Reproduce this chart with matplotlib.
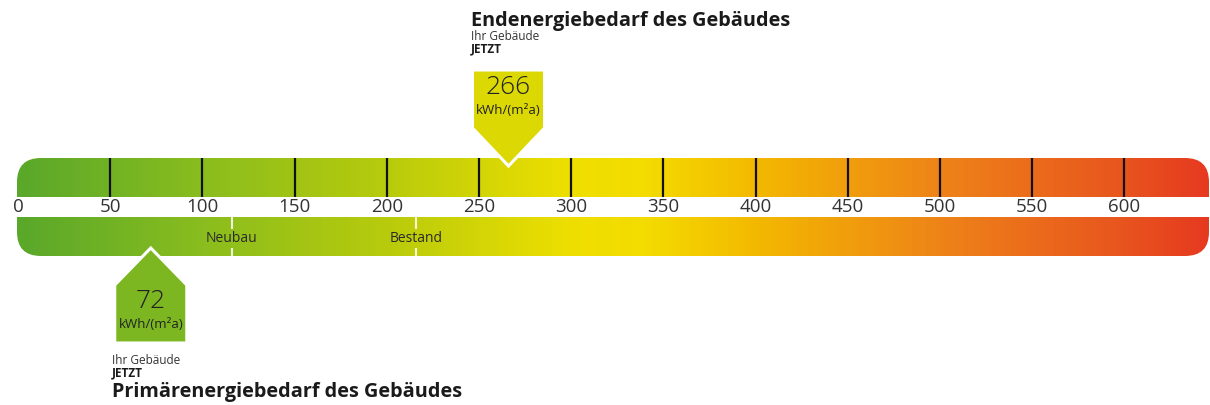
import numpy as np
import matplotlib
matplotlib.use("Agg")
import matplotlib.pyplot as plt
from matplotlib.colors import LinearSegmentedColormap, Normalize
from matplotlib.patches import FancyBboxPatch, Polygon, Rectangle

plt.rcParams['font.family'] = ['Open Sans', 'DejaVu Sans']

# scale values (kWh/(m²a))
tick_values = [0, 50, 100, 150, 200, 250, 300, 350, 400, 450, 500, 550, 600]
end_energy = 266       # Endenergiebedarf
primary_energy = 72    # Primärenergiebedarf
ref_labels = ['Neubau', 'Bestand']
ref_values = [116, 216]

# gradient colour stops along the scale
grad_values = [0, 100, 200, 300, 340, 400, 500, 600, 646]
grad_colors = ['#5aa82a', '#8abd1e', '#b8cb0c', '#eedf00', '#f4dc00',
               '#f3b900', '#ee8418', '#e8551e', '#e63a20']

PX = 1.844   # pixels per kWh unit
X0 = 18      # pixel position of 0
W, H = 1210, 405

fig = plt.figure(figsize=(W / 100, H / 100), dpi=100)
ax = fig.add_axes([0, 0, 1, 1])
xmin, xmax = -X0 / PX, (W - X0) / PX
ax.set_xlim(xmin, xmax)
ax.set_ylim(H, 0)
ax.axis('off')

norm = Normalize(xmin, xmax)
stops = [(0.0, grad_colors[0])] + [(norm(v), c) for v, c in zip(grad_values, grad_colors)] + [(1.0, grad_colors[-1])]
cmap = LinearSegmentedColormap.from_list('scale', stops)

bar_top, bar_bot = 158, 256
gap_top, gap_bot = 196.5, 217
bar_left, bar_right = -1 / PX, (1209 - X0) / PX

grad = np.linspace(xmin, xmax, 1200).reshape(1, -1)
im = ax.imshow(grad, cmap=cmap, norm=norm, aspect='auto',
               extent=(xmin, xmax, bar_bot, bar_top), zorder=1)
clip = FancyBboxPatch((bar_left, bar_top), bar_right - bar_left, bar_bot - bar_top,
                      boxstyle=f"round,pad=0,rounding_size={24 / PX}",
                      mutation_aspect=PX, transform=ax.transData,
                      facecolor='none', edgecolor='none')
ax.add_patch(clip)
im.set_clip_path(clip)

# white gap between the two bars
ax.add_patch(Rectangle((xmin, gap_top), xmax - xmin, gap_bot - gap_top,
                       facecolor='white', edgecolor='none', zorder=2))

# ticks and labels
ax.vlines(tick_values[1:], bar_top, gap_top, color='#111111', lw=1.6, zorder=3)
for v in tick_values:
    ax.text(v, 207, str(v), ha='center', va='center', fontsize=13.5,
            color='#333333', zorder=4)

# reference markers in lower bar
for lab, v in zip(ref_labels, ref_values):
    ax.vlines(v, gap_bot, 229, color='white', lw=1.5, alpha=0.85, zorder=3)
    ax.vlines(v, 248, bar_bot, color='white', lw=1.5, alpha=0.85, zorder=3)
    ax.text(v, 238.5, lab, ha='center', va='center', fontsize=10,
            color='#2a2a2a', zorder=4)

hw = 36 / PX  # half width of the value boxes

# upper marker (Endenergie) pointing down
v = end_energy
ax.add_patch(Polygon([(v - hw, 70), (v + hw, 70), (v + hw, 128), (v, 166), (v - hw, 128)],
                     closed=True, facecolor=cmap(norm(v)), edgecolor='white', lw=2.2, zorder=5))
ax.text(v, 87, str(v), ha='center', va='center', fontsize=19, fontweight='light',
        color='#222222', zorder=6)
ax.text(v, 110, 'kWh/(m²a)', ha='center', va='center', fontsize=9.5, color='#222222', zorder=6)
tx = v - hw - 1.5 / PX
ax.text(tx, 21, 'Endenergiebedarf des Gebäudes', ha='left', va='center',
        fontsize=14.3, fontweight='bold', color='#1a1a1a')
ax.text(tx, 37, 'Ihr Gebäude', ha='left', va='center', fontsize=8.5, color='#333333')
ax.text(tx, 48.5, 'JETZT', ha='left', va='center', fontsize=8.5, fontweight='bold', color='#1a1a1a')

# lower marker (Primärenergie) pointing up
v = primary_energy
ax.add_patch(Polygon([(v, 248), (v + hw, 285), (v + hw, 343), (v - hw, 343), (v - hw, 285)],
                     closed=True, facecolor=cmap(norm(v)), edgecolor='white', lw=2.2, zorder=5))
ax.text(v, 302, str(v), ha='center', va='center', fontsize=19, fontweight='light',
        color='#222222', zorder=6)
ax.text(v, 325, 'kWh/(m²a)', ha='center', va='center', fontsize=9.5, color='#222222', zorder=6)
tx = v - hw - 2.5 / PX
ax.text(tx, 360, 'Ihr Gebäude', ha='left', va='center', fontsize=8.5, color='#333333')
ax.text(tx, 373, 'JETZT', ha='left', va='center', fontsize=8.5, fontweight='bold', color='#1a1a1a')
ax.text(tx, 392, 'Primärenergiebedarf des Gebäudes', ha='left', va='center',
        fontsize=14.3, fontweight='bold', color='#1a1a1a')

fig.savefig('out.png', dpi=100)
